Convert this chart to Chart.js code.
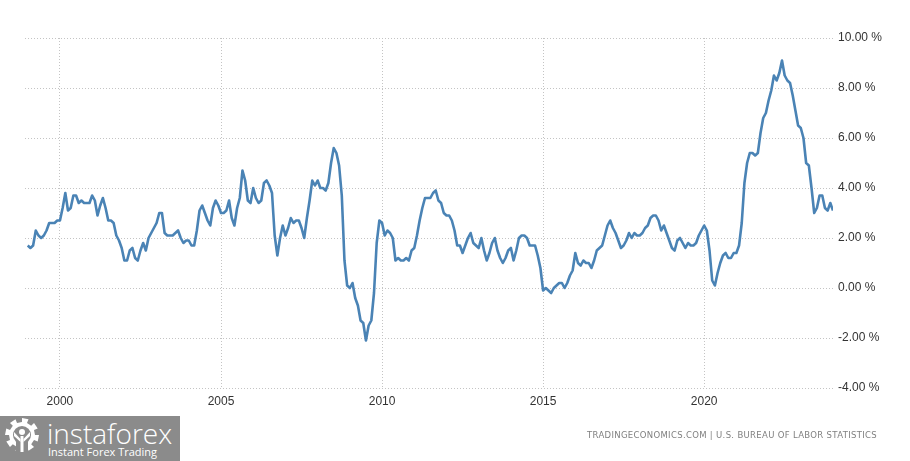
<!DOCTYPE html>
<html>
<head>
<meta charset="utf-8">
<script src="https://cdn.jsdelivr.net/npm/chart.js@4/dist/chart.umd.min.js"></script>
<style>
  html, body { margin: 0; padding: 0; background: #fff; }
  #wrap { position: relative; width: 910px; height: 461px; overflow: hidden; }
  #c { position: absolute; left: 0; top: 0; }
  #logo { position: absolute; left: 0; top: 416px; width: 180px; height: 45px; background: #8b8b8b; overflow: hidden; }
  #logoName { position: absolute; left: 47px; top: -2px; color: #fff; font-family: "Open Sans", sans-serif; font-weight: 300; font-size: 28px; letter-spacing: 0px; }
  #logoSub { position: absolute; left: 48px; top: 28px; color: #fff; font-family: "Open Sans", sans-serif; font-size: 11px; }
  #source { position: absolute; left: 587px; top: 430px; color: #808080; font-family: "DejaVu Sans", sans-serif; font-size: 8.5px; letter-spacing: 0.32px; white-space: nowrap; }
</style>
</head>
<body>
<div id="wrap">
  <canvas id="c" width="910" height="461"></canvas>
  <div id="logo"><canvas id="gear" width="44" height="45" style="position:absolute;left:2px;top:0"></canvas><div id="logoName">instaforex</div><div id="logoSub">Instant Forex Trading</div></div>
  <div id="source">TRADINGECONOMICS.COM | U.S. BUREAU OF LABOR STATISTICS</div>
</div>
<script>
// US CPI inflation rate, year over year (%), monthly from January 1999
const startYear = 1999;
const cpi1999 = [1.7, 1.6, 1.7, 2.3, 2.1, 2.0, 2.1, 2.3, 2.6, 2.6, 2.6, 2.7];
const cpi2000 = [2.7, 3.2, 3.8, 3.1, 3.2, 3.7, 3.7, 3.4, 3.5, 3.4, 3.4, 3.4];
const cpi2001 = [3.7, 3.5, 2.9, 3.3, 3.6, 3.2, 2.7, 2.7, 2.6, 2.1, 1.9, 1.6];
const cpi2002 = [1.1, 1.1, 1.5, 1.6, 1.2, 1.1, 1.5, 1.8, 1.5, 2.0, 2.2, 2.4];
const cpi2003 = [2.6, 3.0, 3.0, 2.2, 2.1, 2.1, 2.1, 2.2, 2.3, 2.0, 1.8, 1.9];
const cpi2004 = [1.9, 1.7, 1.7, 2.3, 3.1, 3.3, 3.0, 2.7, 2.5, 3.2, 3.5, 3.3];
const cpi2005 = [3.0, 3.0, 3.1, 3.5, 2.8, 2.5, 3.2, 3.6, 4.7, 4.3, 3.5, 3.4];
const cpi2006 = [4.0, 3.6, 3.4, 3.5, 4.2, 4.3, 4.1, 3.8, 2.1, 1.3, 2.0, 2.5];
const cpi2007 = [2.1, 2.4, 2.8, 2.6, 2.7, 2.7, 2.4, 2.0, 2.8, 3.5, 4.3, 4.1];
const cpi2008 = [4.3, 4.0, 4.0, 3.9, 4.2, 5.0, 5.6, 5.4, 4.9, 3.7, 1.1, 0.1];
const cpi2009 = [0.0, 0.2, -0.4, -0.7, -1.3, -1.4, -2.1, -1.5, -1.3, -0.2, 1.8, 2.7];
const cpi2010 = [2.6, 2.1, 2.3, 2.2, 2.0, 1.1, 1.2, 1.1, 1.1, 1.2, 1.1, 1.5];
const cpi2011 = [1.6, 2.1, 2.7, 3.2, 3.6, 3.6, 3.6, 3.8, 3.9, 3.5, 3.4, 3.0];
const cpi2012 = [2.9, 2.9, 2.7, 2.3, 1.7, 1.7, 1.4, 1.7, 2.0, 2.2, 1.8, 1.7];
const cpi2013 = [1.6, 2.0, 1.5, 1.1, 1.4, 1.8, 2.0, 1.5, 1.2, 1.0, 1.2, 1.5];
const cpi2014 = [1.6, 1.1, 1.5, 2.0, 2.1, 2.1, 2.0, 1.7, 1.7, 1.7, 1.3, 0.8];
const cpi2015 = [-0.1, 0.0, -0.1, -0.2, 0.0, 0.1, 0.2, 0.2, 0.0, 0.2, 0.5, 0.7];
const cpi2016 = [1.4, 1.0, 0.9, 1.1, 1.0, 1.0, 0.8, 1.1, 1.5, 1.6, 1.7, 2.1];
const cpi2017 = [2.5, 2.7, 2.4, 2.2, 1.9, 1.6, 1.7, 1.9, 2.2, 2.0, 2.2, 2.1];
const cpi2018 = [2.1, 2.2, 2.4, 2.5, 2.8, 2.9, 2.9, 2.7, 2.3, 2.5, 2.2, 1.9];
const cpi2019 = [1.6, 1.5, 1.9, 2.0, 1.8, 1.6, 1.8, 1.7, 1.7, 1.8, 2.1, 2.3];
const cpi2020 = [2.5, 2.3, 1.5, 0.3, 0.1, 0.6, 1.0, 1.3, 1.4, 1.2, 1.2, 1.4];
const cpi2021 = [1.4, 1.7, 2.6, 4.2, 5.0, 5.4, 5.4, 5.3, 5.4, 6.2, 6.8, 7.0];
const cpi2022 = [7.5, 7.9, 8.5, 8.3, 8.6, 9.1, 8.5, 8.3, 8.2, 7.7, 7.1, 6.5];
const cpi2023 = [6.4, 6.0, 5.0, 4.9, 4.0, 3.0, 3.2, 3.7, 3.7, 3.2, 3.1, 3.4];
const cpi2024 = [3.1];

const yearTicks = [2000, 2005, 2010, 2015, 2020];
const yTicks = [-4, -2, 0, 2, 4, 6, 8, 10];

const series = [].concat(cpi1999, cpi2000, cpi2001, cpi2002, cpi2003, cpi2004, cpi2005,
  cpi2006, cpi2007, cpi2008, cpi2009, cpi2010, cpi2011, cpi2012, cpi2013, cpi2014,
  cpi2015, cpi2016, cpi2017, cpi2018, cpi2019, cpi2020, cpi2021, cpi2022, cpi2023, cpi2024);
const points = series.map((v, i) => ({ x: startYear + i / 12, y: v }));

const gridColor = '#c4c4c4';
new Chart(document.getElementById('c'), {
  type: 'line',
  data: { datasets: [{ data: points, borderColor: '#4a83b5', borderWidth: 2.6, pointRadius: 0, tension: 0, fill: false, borderJoinStyle: 'round' }] },
  options: {
    responsive: false,
    animation: false,
    events: [],
    layout: { padding: { left: 25, top: 38, right: 0, bottom: 0 } },
    plugins: { legend: { display: false }, tooltip: { enabled: false } },
    scales: {
      x: {
        type: 'linear',
        min: 1998.915,
        max: 2024.0,
        afterBuildTicks: (s) => { s.ticks = yearTicks.map(v => ({ value: v })); },
        afterFit: (s) => { s.height = 73; },
        border: { display: false, dash: [1, 2] },
        grid: { color: gridColor, drawTicks: false, lineWidth: 1 },
        ticks: { padding: 6, color: '#333', font: { family: 'Liberation Sans', size: 12 }, callback: (v) => String(v) }
      },
      y: {
        position: 'right',
        min: -4,
        max: 10,
        afterBuildTicks: (s) => { s.ticks = yTicks.map(v => ({ value: v })); },
        afterFit: (s) => { s.width = 77; },
        border: { display: false, dash: [1, 2] },
        grid: { color: gridColor, drawTicks: false, lineWidth: 1 },
        ticks: { padding: 5, color: '#333', font: { family: 'Liberation Sans', size: 12 }, callback: (v) => v.toFixed(2) + ' %' }
      }
    }
  }
});

// Logo gear icon
(function () {
  const g = document.getElementById('gear').getContext('2d');
  const cx = 20, cy = 19, rO = 17, rI = 13;
  g.fillStyle = '#fff';
  g.beginPath();
  const teeth = 8;
  for (let i = 0; i < teeth * 2; i++) {
    const a0 = (i / (teeth * 2)) * Math.PI * 2 - Math.PI / 2;
    const a1 = ((i + 1) / (teeth * 2)) * Math.PI * 2 - Math.PI / 2;
    const r = i % 2 === 0 ? rO : rI;
    g.lineTo(cx + r * Math.cos(a0), cy + r * Math.sin(a0));
    g.lineTo(cx + r * Math.cos(a1), cy + r * Math.sin(a1));
  }
  g.closePath();
  g.fill();
  g.fillStyle = '#8b8b8b';
  g.beginPath(); g.arc(cx, cy, 9, 0, Math.PI * 2); g.fill();
  g.fillRect(cx - 6, cy, 12, 26);
  g.fillStyle = '#fff';
  g.beginPath(); g.arc(cx, cy - 3, 3, 0, Math.PI * 2); g.fill();
  g.fillRect(cx - 1.5, cy + 1, 3, 16);
  g.beginPath(); g.moveTo(cx - 8, cy - 3); g.lineTo(cx - 1.5, cy + 4); g.lineTo(cx - 1.5, cy + 7); g.lineTo(cx - 8, cy + 1); g.closePath(); g.fill();
  g.beginPath(); g.moveTo(cx + 8, cy - 3); g.lineTo(cx + 1.5, cy + 4); g.lineTo(cx + 1.5, cy + 7); g.lineTo(cx + 8, cy + 1); g.closePath(); g.fill();
})();
</script>
</body>
</html>
